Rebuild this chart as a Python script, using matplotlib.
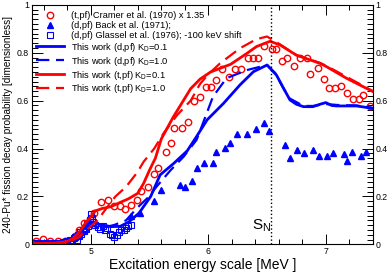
import matplotlib
matplotlib.use('Agg')
import matplotlib.pyplot as plt
from matplotlib.ticker import MultipleLocator

plt.rcParams['font.family'] = ['Liberation Sans', 'DejaVu Sans']

# (t,pf) Cramer et al. (1970) x 1.35
cramer_x = [4.53, 4.59, 4.65, 4.72, 4.78, 4.84, 4.87, 4.90, 4.94, 4.99, 5.03, 5.085, 5.147,
            5.20, 5.25, 5.29, 5.34, 5.39, 5.43, 5.486, 5.535, 5.574, 5.64, 5.684, 5.712, 5.775,
            5.83, 5.877, 5.93, 5.98, 6.02, 6.065, 6.116, 6.178, 6.227, 6.278, 6.335, 6.378,
            6.426, 6.477, 6.54, 6.576, 6.624, 6.672, 6.729, 6.78, 6.836, 6.864, 6.93, 6.983,
            7.03, 7.08, 7.13, 7.184, 7.23, 7.28, 7.316, 7.38]
cramer_y = [0.014, 0.021, 0.014, 0.013, 0.015, 0.020, 0.035, 0.060, 0.088, 0.105, 0.130, 0.178, 0.185,
            0.162, 0.160, 0.146, 0.164, 0.186, 0.222, 0.240, 0.292, 0.320, 0.385, 0.423, 0.484, 0.486,
            0.511, 0.597, 0.616, 0.656, 0.656, 0.687, 0.731, 0.698, 0.731, 0.731, 0.780, 0.780,
            0.780, 0.829, 0.816, 0.816, 0.767, 0.780, 0.745, 0.780, 0.780, 0.711, 0.735, 0.690,
            0.652, 0.652, 0.661, 0.630, 0.606, 0.606, 0.624, 0.578]

# (d,pf) Back et al. (1971)
back_x = [5.34, 5.418, 5.54, 5.60, 5.757, 5.80, 5.86, 5.90, 5.966, 6.036, 6.068, 6.138, 6.186,
          6.243, 6.328, 6.404, 6.475, 6.52, 6.652, 6.695, 6.757, 6.814, 6.887, 6.943, 7.014,
          7.062, 7.153, 7.18, 7.226, 7.297, 7.344]
back_y = [0.118, 0.130, 0.181, 0.228, 0.249, 0.238, 0.266, 0.317, 0.338, 0.338, 0.387, 0.401, 0.422,
          0.460, 0.460, 0.482, 0.508, 0.473, 0.415, 0.362, 0.394, 0.380, 0.394, 0.369, 0.369,
          0.380, 0.376, 0.348, 0.387, 0.369, 0.387]

# (d,pf) Glassel et al. (1976); -100 keV shift
glassel_x = [4.52, 4.54, 4.56, 4.58, 4.60, 4.62, 4.64, 4.66, 4.68, 4.70, 4.72, 4.74, 4.76, 4.78,
             4.80, 4.82, 4.84, 4.86, 4.87, 4.88, 4.89, 4.90, 4.91, 4.92, 4.93, 4.94, 4.95, 4.96,
             4.97, 4.98, 4.99, 5.00, 5.01, 5.02, 5.04, 5.06, 5.08, 5.10, 5.12, 5.14, 5.16, 5.18,
             5.20, 5.22, 5.24, 5.26, 5.28, 5.30, 5.32, 5.34]
glassel_y = [0.004, 0.002, 0.005, 0.003, 0.001, 0.004, 0.002, 0.003, 0.005, 0.002, 0.006, 0.004, 0.008, 0.010,
             0.012, 0.018, 0.015, 0.025, 0.030, 0.020, 0.040, 0.035, 0.050, 0.045, 0.060, 0.055, 0.070, 0.065,
             0.085, 0.075, 0.100, 0.125, 0.110, 0.095, 0.080, 0.072, 0.065, 0.078, 0.060, 0.070, 0.045, 0.038,
             0.032, 0.040, 0.050, 0.060, 0.058, 0.068, 0.075, 0.082]

# This work (d,pf) K_D=0.1
dpf01_x = [4.50, 4.80, 4.90, 4.95, 5.00, 5.057, 5.17, 5.25, 5.325, 5.41, 5.51, 5.59, 5.706, 5.82,
           5.90, 5.99, 6.13, 6.27, 6.384, 6.50, 6.58, 6.64, 6.695, 6.75, 6.81, 6.89, 6.95, 7.00,
           7.05, 7.09, 7.26, 7.40]
dpf01_y = [0.002, 0.010, 0.040, 0.070, 0.095, 0.085, 0.074, 0.075, 0.094, 0.130, 0.200, 0.290, 0.338, 0.390,
           0.450, 0.520, 0.589, 0.666, 0.721, 0.749, 0.707, 0.652, 0.603, 0.585, 0.575, 0.575, 0.585, 0.592,
           0.580, 0.578, 0.578, 0.568]

# This work (d,pf) K_D=1.0
dpf10_x = [4.50, 4.80, 4.90, 4.95, 5.00, 5.085, 5.20, 5.30, 5.39, 5.48, 5.56, 5.68, 5.79, 5.90,
           5.95, 6.04, 6.155, 6.33, 6.50, 6.57, 6.63, 6.69, 6.81, 6.89, 7.00, 7.10, 7.26, 7.40]
dpf10_y = [0.002, 0.008, 0.035, 0.060, 0.080, 0.067, 0.081, 0.100, 0.150, 0.192, 0.241, 0.310, 0.366, 0.436,
           0.500, 0.617, 0.694, 0.728, 0.749, 0.715, 0.660, 0.610, 0.578, 0.578, 0.586, 0.582, 0.580, 0.570]

# This work (t,pf) K_D=0.1
tpf01_x = [4.50, 4.70, 4.80, 4.85, 4.90, 4.95, 5.00, 5.04, 5.10, 5.17, 5.25, 5.32, 5.40, 5.45,
           5.50, 5.55, 5.60, 5.70, 5.80, 5.85, 5.93, 6.02, 6.19, 6.33, 6.41, 6.525, 6.61, 6.75,
           6.95, 7.006, 7.175, 7.40]
tpf01_y = [0.003, 0.005, 0.012, 0.025, 0.050, 0.085, 0.115, 0.140, 0.150, 0.157, 0.175, 0.190, 0.213, 0.255,
           0.310, 0.360, 0.440, 0.530, 0.610, 0.650, 0.690, 0.720, 0.752, 0.798, 0.826, 0.848, 0.833, 0.790,
           0.756, 0.742, 0.694, 0.638]

# This work (t,pf) K_D=1.0
tpf10_x = [4.50, 4.80, 4.90, 4.95, 5.00, 5.057, 5.14, 5.21, 5.30, 5.395, 5.45, 5.54, 5.62, 5.735,
           5.85, 5.93, 6.00, 6.10, 6.27, 6.41, 6.50, 6.54, 6.61, 6.75, 6.95, 7.006, 7.175, 7.40]
tpf10_y = [0.002, 0.008, 0.030, 0.055, 0.075, 0.100, 0.155, 0.200, 0.240, 0.300, 0.345, 0.400, 0.464, 0.540,
           0.600, 0.670, 0.710, 0.756, 0.819, 0.857, 0.868, 0.856, 0.835, 0.790, 0.758, 0.745, 0.700, 0.640]

s_n = 6.534

fig = plt.figure(figsize=(3.9, 2.73), dpi=100)
ax = fig.add_axes([0.082, 0.105, 0.874, 0.877])

ax.plot(cramer_x, cramer_y, 'o', ms=4.6, mfc='none', mec='red', mew=1.0, ls='none',
        label='(t,pf) Cramer et al. (1970) x 1.35')
ax.plot(back_x, back_y, '^', ms=4.6, color='blue', ls='none',
        label='(d,pf) Back et al. (1971);')
ax.plot(glassel_x, glassel_y, 's', ms=3.8, mfc='none', mec='blue', mew=0.8, ls='none',
        label='(d,pf) Glassel et al. (1976); -100 keV shift')
ax.plot(dpf01_x, dpf01_y, '-', color='blue', lw=2.0,
        label='This work (d,pf) K$_\\mathregular{D}$=0.1')
ax.plot(dpf10_x, dpf10_y, '--', color='blue', lw=1.6, dashes=(6, 3),
        label='This work (d,pf) K$_\\mathregular{D}$=1.0')
ax.plot(tpf01_x, tpf01_y, '-', color='red', lw=2.0,
        label='This work (t,pf) K$_\\mathregular{D}$=0.1')
ax.plot(tpf10_x, tpf10_y, '--', color='red', lw=1.6, dashes=(6, 3),
        label='This work (t,pf) K$_\\mathregular{D}$=1.0')

ax.axvline(s_n, color='black', ls=':', lw=1.0)
ax.text(6.373, 0.064, 'S$_\\mathregular{N}$', fontsize=11, ha='left', va='baseline')

ax.set_xlim(4.5, 7.4)
ax.set_ylim(0, 1)
ax.xaxis.set_major_locator(MultipleLocator(1))
ax.xaxis.set_minor_locator(MultipleLocator(0.2))
ax.yaxis.set_major_locator(MultipleLocator(0.2))
ax.yaxis.set_minor_locator(MultipleLocator(0.02))
ax.set_yticks([0, 0.2, 0.4, 0.6, 0.8, 1.0])
ax.set_yticklabels(['0', '0.2', '0.4', '0.6', '0.8', '1'])

ax.tick_params(which='both', direction='in', top=True, right=True, labelright=True,
               labelsize=6.3, pad=2, width=0.7)
ax.tick_params(axis='x', which='major', length=7)
ax.tick_params(axis='x', which='minor', length=3.5)
ax.tick_params(axis='y', which='major', length=8)
ax.tick_params(axis='y', which='minor', length=4)
for sp in ax.spines.values():
    sp.set_linewidth(0.8)

ax.set_xlabel('Excitation energy scale [MeV ]', fontsize=10, labelpad=1)
ax.set_ylabel('240-Pu* fission decay probability [dimensionless]', fontsize=7.2, labelpad=3)

ax.legend(loc='upper left', bbox_to_anchor=(0.012, 0.975), frameon=False, fontsize=6.7,
          handlelength=3.0, handletextpad=0.75, labelspacing=0.1, borderpad=0, borderaxespad=0)

plt.savefig('out.png', dpi=100)
